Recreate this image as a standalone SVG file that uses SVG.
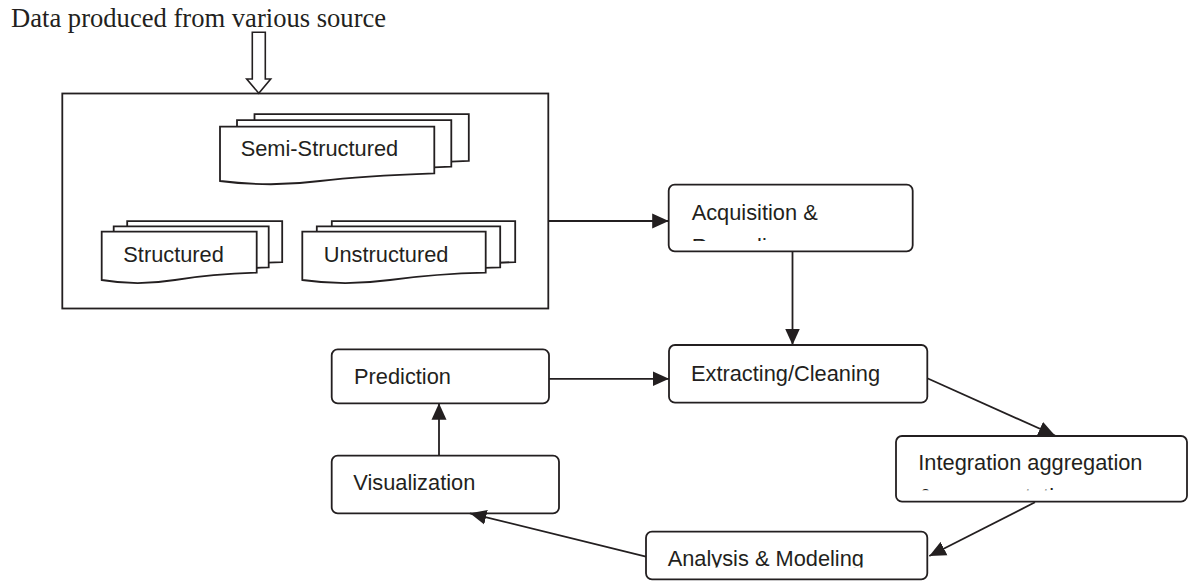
<svg xmlns="http://www.w3.org/2000/svg" width="1188" height="581" viewBox="0 0 1188 581">
<style>
.box{fill:#fff;stroke:#231f20;stroke-width:1.8}
.doc{fill:#fff;stroke:#231f20;stroke-width:1.8;stroke-linejoin:miter}
.lbl{font-family:"Liberation Sans",Arial,sans-serif;font-size:21.8px;fill:#231f20}
.ttl{font-family:"Liberation Serif","Times New Roman",serif;font-size:26.6px;fill:#231f20}
.con{fill:none;stroke:#231f20;stroke-width:1.8}
</style>
<defs>
<marker id="ah" markerUnits="userSpaceOnUse" markerWidth="17" markerHeight="16" viewBox="0 0 17 16" refX="16.5" refY="8" orient="auto">
<path d="M0,0.5 L16.5,8 L0,15.5 z" fill="#231f20"/>
</marker>
<clipPath id="cAcq"><rect x="669" y="185" width="243" height="56"/></clipPath>
<clipPath id="cInt"><rect x="896" y="436" width="291" height="54.2"/></clipPath>
<clipPath id="cAna"><rect x="646" y="532" width="281" height="35.5"/></clipPath>
<path id="semiDoc" d="M220,126.7 H434.3 V173.3 C400,174.5 360,176 320,181 C290,185 260,186 220,181 Z"/>
<path id="strDoc" d="M101.7,231.7 H256.7 V272.7 C230,273.5 200,276 175,280 C150,284 125,284 101.7,280 Z"/>
<path id="unsDoc" d="M302.3,231.7 H485.7 V272.7 C450,273.5 420,276 390,280 C360,284 330,284 302.3,280 Z"/>
</defs>

<text class="ttl" x="11" y="27">Data produced from various source</text>

<g id="sources">
<rect class="box" x="62.3" y="93.5" width="486" height="215"/>
<path d="M252.3,32.3 H265.3 V79 H270.7 L258.8,93.3 L246.7,79 H252.3 Z" fill="#fff" stroke="#231f20" stroke-width="1.6" stroke-linejoin="miter"/>
</g>

<g id="semi-structured">
<use href="#semiDoc" class="doc" transform="translate(34.5,-12.5)"/>
<use href="#semiDoc" class="doc" transform="translate(17,-6.6)"/>
<use href="#semiDoc" class="doc"/>
<text class="lbl" x="240.7" y="156">Semi-Structured</text>
</g>

<g id="structured">
<use href="#strDoc" class="doc" transform="translate(25.5,-10.6)"/>
<use href="#strDoc" class="doc" transform="translate(12,-5.3)"/>
<use href="#strDoc" class="doc"/>
<text class="lbl" x="123.3" y="261.7">Structured</text>
</g>

<g id="unstructured">
<use href="#unsDoc" class="doc" transform="translate(29.5,-10.6)"/>
<use href="#unsDoc" class="doc" transform="translate(14.5,-5.3)"/>
<use href="#unsDoc" class="doc"/>
<text class="lbl" x="323.7" y="261.7">Unstructured</text>
</g>

<g id="acquisition">
<rect class="box" x="668.7" y="184.7" width="244" height="66.6" rx="6"/>
<g clip-path="url(#cAcq)">
<text class="lbl" x="691.7" y="220">Acquisition &amp;</text>
<text class="lbl" x="691.7" y="253.6">Recording</text>
</g>
</g>

<g id="extracting">
<rect class="box" x="669" y="345" width="258.3" height="57.7" rx="6"/>
<text class="lbl" x="691" y="381">Extracting/Cleaning</text>
</g>

<g id="integration">
<rect class="box" x="896" y="436" width="291" height="65.7" rx="6"/>
<g clip-path="url(#cInt)">
<text class="lbl" x="918.3" y="470">Integration aggregation</text>
<text class="lbl" x="918.3" y="503.5">&amp; representation</text>
</g>
</g>

<g id="analysis">
<rect class="box" x="646" y="531.7" width="281.3" height="47.6" rx="6"/>
<g clip-path="url(#cAna)">
<text class="lbl" x="667.7" y="566">Analysis &amp; Modeling</text>
</g>
</g>

<g id="prediction">
<rect class="box" x="331.7" y="349.3" width="217.3" height="54" rx="6"/>
<text class="lbl" x="354" y="384.3">Prediction</text>
</g>

<g id="visualization">
<rect class="box" x="331.7" y="455.7" width="227.3" height="57.6" rx="6"/>
<text class="lbl" x="353.3" y="490">Visualization</text>
</g>

<g id="connectors">
<line class="con" x1="548.3" y1="221" x2="668.7" y2="221" marker-end="url(#ah)"/>
<line class="con" x1="792.5" y1="251.3" x2="792.5" y2="345" marker-end="url(#ah)"/>
<line class="con" x1="927.3" y1="378.3" x2="1055" y2="435.5" marker-end="url(#ah)"/>
<line class="con" x1="1035" y1="502.3" x2="929.3" y2="556" marker-end="url(#ah)"/>
<line class="con" x1="646" y1="556.7" x2="470" y2="513.3" marker-end="url(#ah)"/>
<line class="con" x1="439" y1="455.7" x2="439" y2="403.3" marker-end="url(#ah)"/>
<line class="con" x1="549" y1="378.8" x2="669" y2="378.8" marker-end="url(#ah)"/>
</g>
</svg>
